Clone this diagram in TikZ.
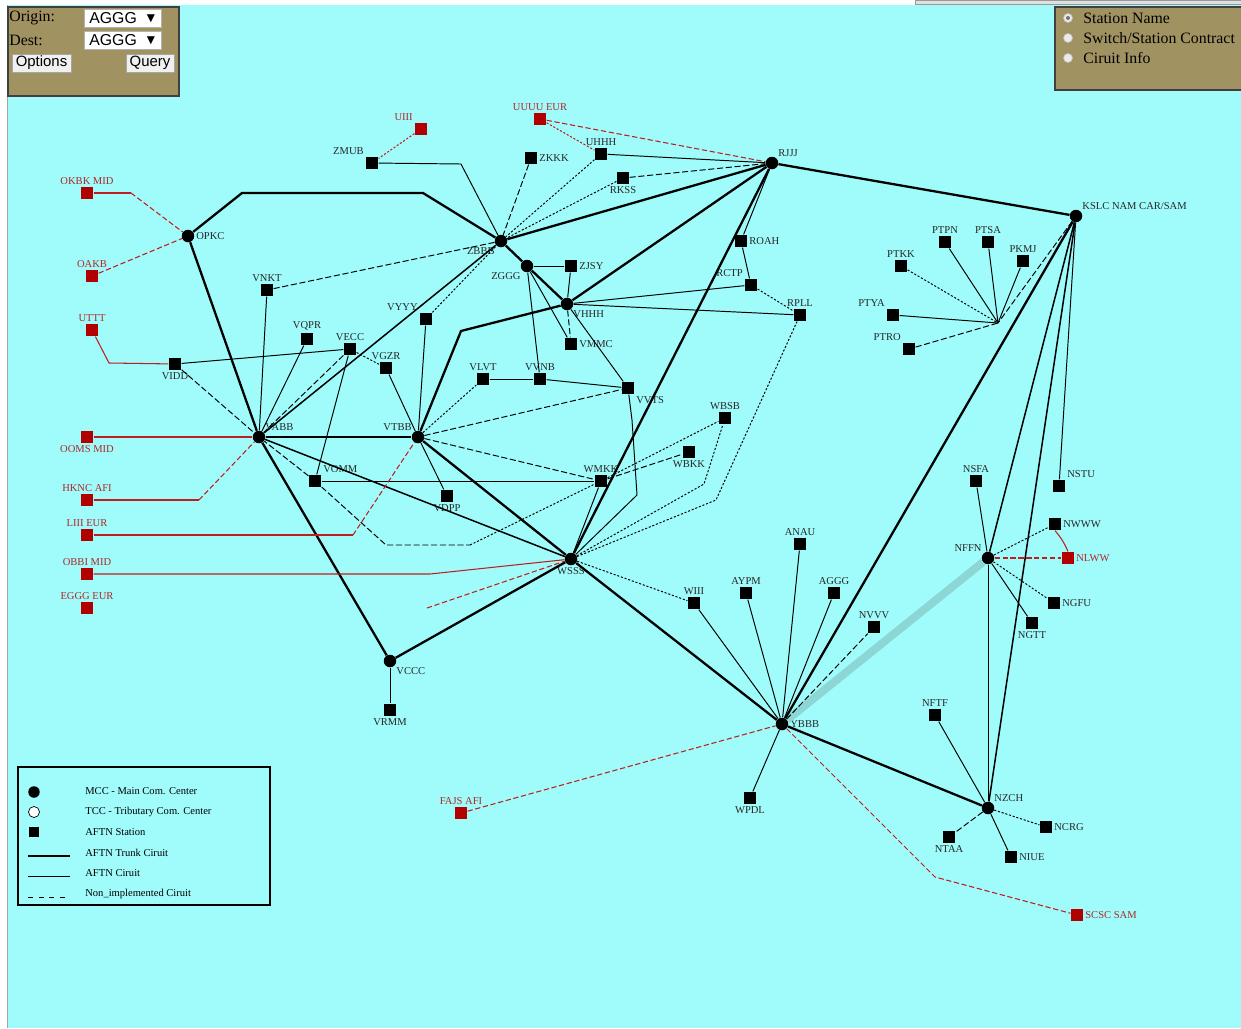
\documentclass[tikz,border=0pt]{standalone}
\usepackage{fontspec}
\setmainfont{Liberation Serif}
\newfontfamily\uisans{Liberation Sans}
\newfontfamily\symfnt{DejaVu Sans}
\usepackage{tikz}
\usetikzlibrary{positioning}

\definecolor{sea}{RGB}{160,251,251}
\definecolor{panelbg}{RGB}{161,146,98}
\definecolor{stnred}{RGB}{178,0,0}
\definecolor{lnred}{RGB}{190,30,30}
\definecolor{lblred}{RGB}{175,40,40}
\definecolor{pipeblue}{RGB}{140,214,214}

\begin{document}
\begin{tikzpicture}[x=0.02cm,y=-0.02cm,
  mcc/.style={circle,fill=black,inner sep=0pt,minimum size=0.25cm},
  stn/.style={rectangle,fill=black,inner sep=0pt,minimum size=0.25cm},
  extstn/.style={stn,fill=stnred},
  lbl/.style={font=\fontsize{6}{7}\selectfont,text=black!85,inner sep=0.8pt},
  extlbl/.style={lbl,text=lblred},
  trunk/.style={line width=1.3pt},
  midln/.style={line width=0.85pt},
  circ/.style={line width=0.55pt},
  nimp/.style={circ,dash pattern=on 3.5pt off 1.5pt},
  dotln/.style={circ,dash pattern=on 1.2pt off 1pt},
  extln/.style={line width=0.6pt,draw=lnred},
  extdash/.style={extln,dash pattern=on 3pt off 1.5pt},
  extdot/.style={extln,dash pattern=on 1.2pt off 1pt},
  pipe/.style={line width=4.5pt,draw=pipeblue},
  lgtxt/.style={font=\fontsize{6}{7}\selectfont,anchor=west,inner sep=0pt},
  uitxt/.style={font=\fontsize{9}{10}\selectfont,anchor=west,inner sep=0pt},
  selbox/.style={draw=black!30,fill=white,minimum width=1.54cm,minimum height=0.37cm,inner sep=0pt},
  btn/.style={draw=black!35,fill=black!6,font=\uisans\fontsize{8.5}{10}\selectfont,minimum height=0.36cm,inner sep=0pt},
  radio/.style={circle,draw=black!25,fill=black!8,minimum size=0.18cm,inner sep=0pt}
]
  \useasboundingbox (0,0) rectangle (1241,1028);
  \fill[white] (0,0) rectangle (1241,1028);
  \fill[sea] (8,5) rectangle (1241,1028);
  \draw[black!35] (7,5) -- (7,1028);
  \draw[black!40,fill=black!12] (915,0) rectangle (1241,4);

  % main com. centers
  \node[mcc,label={[lbl]right:OPKC}] (OPKC) at (188,236) {};
  \node[mcc,label={[lbl]below left:ZBBB}] (ZBBB) at (501,241) {};
  \node[mcc,label={[lbl]below left:ZGGG}] (ZGGG) at (527,266) {};
  \node[mcc,label={[lbl]below right:VHHH}] (VHHH) at (567,304) {};
  \node[mcc,label={[lbl]above right:RJJJ}] (RJJJ) at (772,163) {};
  \node[mcc,label={[lbl]above right:KSLC NAM CAR/SAM}] (KSLC) at (1076,216) {};
  \node[mcc,label={[lbl]above right:VABB}] (VABB) at (259,437) {};
  \node[mcc,label={[lbl]above left:VTBB}] (VTBB) at (418,437) {};
  \node[mcc,label={[lbl]below:WSSS}] (WSSS) at (571,559) {};
  \node[mcc,label={[lbl]below right:VCCC}] (VCCC) at (390,661) {};
  \node[mcc,label={[lbl]right:YBBB}] (YBBB) at (782,724) {};
  \node[mcc,label={[lbl]above left:NFFN}] (NFFN) at (988,558) {};
  \node[mcc,label={[lbl]above right:NZCH}] (NZCH) at (988,808) {};
  \coordinate (PThub) at (998,323);

  % stations
  \node[extstn,label={[extlbl]above left:UIII}] (UIII) at (421,129) {};
  \node[stn,label={[lbl]above left:ZMUB}] (ZMUB) at (372,163) {};
  \node[extstn,label={[extlbl]above:UUUU EUR}] (UUUU) at (540,119) {};
  \node[stn,label={[lbl]right:ZKKK}] (ZKKK) at (531,158) {};
  \node[stn,label={[lbl]above:UHHH}] (UHHH) at (601,154) {};
  \node[stn,label={[lbl]below:RKSS}] (RKSS) at (623,178) {};
  \node[extstn,label={[extlbl]above:OKBK MID}] (OKBK) at (87,193) {};
  \node[extstn,label={[extlbl]above:OAKB}] (OAKB) at (92,276) {};
  \node[extstn,label={[extlbl]above:UTTT}] (UTTT) at (92,330) {};
  \node[stn,label={[lbl]above:VNKT}] (VNKT) at (267,290) {};
  \node[stn,label={[lbl]above left:VYYY}] (VYYY) at (426,319) {};
  \node[stn,label={[lbl]above:VQPR}] (VQPR) at (307,339) {};
  \node[stn,label={[lbl]above:VECC}] (VECC) at (350,349) {};
  \node[stn,label={[lbl]below:VIDD}] (VIDD) at (175,364) {};
  \node[stn,label={[lbl]above:VGZR}] (VGZR) at (386,368) {};
  \node[stn,label={[lbl]right:ZJSY}] (ZJSY) at (571,266) {};
  \node[stn,label={[lbl]right:VMMC}] (VMMC) at (571,344) {};
  \node[stn,label={[lbl]right:ROAH}] (ROAH) at (741,241) {};
  \node[stn,label={[lbl]above left:RCTP}] (RCTP) at (751,285) {};
  \node[stn,label={[lbl]above:RPLL}] (RPLL) at (800,315) {};
  \node[stn,label={[lbl]above:VLVT}] (VLVT) at (483,379) {};
  \node[stn,label={[lbl]above:VVNB}] (VVNB) at (540,379) {};
  \node[stn,label={[lbl]below right:VVTS}] (VVTS) at (628,388) {};
  \node[stn,label={[lbl]above:WBSB}] (WBSB) at (725,418) {};
  \node[stn,label={[lbl]below:WBKK}] (WBKK) at (689,452) {};
  \node[stn,label={[lbl]above:WMKK}] (WMKK) at (601,481) {};
  \node[stn,label={[lbl]above right:VOMM}] (VOMM) at (315,481) {};
  \node[stn,label={[lbl]below:VDPP}] (VDPP) at (447,496) {};
  \node[extstn,label={[extlbl]below:OOMS MID}] (OOMS) at (87,437) {};
  \node[extstn,label={[extlbl]above:HKNC AFI}] (HKNC) at (87,500) {};
  \node[extstn,label={[extlbl]above:LIII EUR}] (LIII) at (87,535) {};
  \node[extstn,label={[extlbl]above:OBBI MID}] (OBBI) at (87,574) {};
  \node[extstn,label={[extlbl]above:EGGG EUR}] (EGGG) at (87,608) {};
  \node[stn,label={[lbl]below:VRMM}] (VRMM) at (390,710) {};
  \node[stn,label={[lbl]above:WIII}] (WIII) at (694,603) {};
  \node[stn,label={[lbl]above:AYPM}] (AYPM) at (746,593) {};
  \node[stn,label={[lbl]above:ANAU}] (ANAU) at (800,544) {};
  \node[stn,label={[lbl]above:AGGG}] (AGGG) at (834,593) {};
  \node[stn,label={[lbl]above:NVVV}] (NVVV) at (874,627) {};
  \node[extstn,label={[extlbl]above:FAJS AFI}] (FAJS) at (461,813) {};
  \node[stn,label={[lbl]below:WPDL}] (WPDL) at (750,798) {};
  \node[stn,label={[lbl]above:NFTF}] (NFTF) at (935,715) {};
  \node[stn,label={[lbl]below:NTAA}] (NTAA) at (949,837) {};
  \node[stn,label={[lbl]right:NIUE}] (NIUE) at (1011,857) {};
  \node[stn,label={[lbl]right:NCRG}] (NCRG) at (1046,827) {};
  \node[extstn,label={[extlbl]right:SCSC SAM}] (SCSC) at (1077,915) {};
  \node[stn,label={[lbl]above:NSFA}] (NSFA) at (976,481) {};
  \node[stn,label={[lbl]above right:NSTU}] (NSTU) at (1059,486) {};
  \node[stn,label={[lbl]right:NWWW}] (NWWW) at (1055,524) {};
  \node[extstn,label={[extlbl]right:NLWW}] (NLWW) at (1068,558) {};
  \node[stn,label={[lbl]right:NGFU}] (NGFU) at (1054,603) {};
  \node[stn,label={[lbl]below:NGTT}] (NGTT) at (1032,623) {};
  \node[stn,label={[lbl]above:PTPN}] (PTPN) at (945,242) {};
  \node[stn,label={[lbl]above:PTSA}] (PTSA) at (988,242) {};
  \node[stn,label={[lbl]above:PKMJ}] (PKMJ) at (1023,261) {};
  \node[stn,label={[lbl]above:PTKK}] (PTKK) at (901,266) {};
  \node[stn,label={[lbl]above left:PTYA}] (PTYA) at (893,315) {};
  \node[stn,label={[lbl]above left:PTRO}] (PTRO) at (909,349) {};

  % bends
  \coordinate (b1) at (242,193);
  \coordinate (b2) at (423,193);
  \coordinate (b3) at (461,164);
  \coordinate (b4) at (131,193);
  \coordinate (b5) at (109,363);
  \coordinate (b6) at (199,500);
  \coordinate (b7) at (353,535);
  \coordinate (b8) at (430,574);
  \coordinate (b9) at (427,608);
  \coordinate (b10) at (461,331);
  \coordinate (b11) at (386,545);
  \coordinate (b12) at (470,545);
  \coordinate (b13) at (637,495);
  \coordinate (b14) at (632,420);
  \coordinate (b15) at (704,484);
  \coordinate (b16) at (716,500);
  \coordinate (b17) at (935,877);

  % trunk circuits
  \draw[pipe] (YBBB) -- (NFFN);
  \draw[trunk] (OPKC) -- (b1) -- (b2) -- (ZBBB);
  \draw[trunk] (OPKC) -- (VABB);
  \draw[trunk] (ZBBB) -- (RJJJ);
  \draw[trunk] (RJJJ) -- (KSLC);
  \draw[trunk] (ZBBB) -- (ZGGG) -- (VHHH);
  \draw[trunk] (VHHH) -- (RJJJ);
  \draw[trunk] (VTBB) -- (b10) -- (VHHH);
  \draw[trunk] (VABB) -- (VTBB);
  \draw[trunk] (VTBB) -- (WSSS);
  \draw[trunk] (VABB) -- (VCCC);
  \draw[trunk] (VCCC) -- (WSSS);
  \draw[trunk] (WSSS) -- (RJJJ);
  \draw[trunk] (WSSS) -- (YBBB);
  \draw[trunk] (YBBB) -- (KSLC);
  \draw[trunk] (YBBB) -- (NZCH);
  \draw[midln] (VABB) -- (ZBBB);
  \draw[midln] (VABB) -- (WSSS);
  \draw[midln] (NFFN) -- (KSLC);
  \draw[midln] (NZCH) -- (KSLC);

  % circuits
  \draw[circ] (ZMUB) -- (b3) -- (ZBBB);
  \draw[nimp] (ZKKK) -- (ZBBB);
  \draw[dotln] (UHHH) -- (ZBBB);
  \draw[dotln] (RKSS) -- (ZBBB);
  \draw[circ] (UHHH) -- (RJJJ);
  \draw[nimp] (RKSS) -- (RJJJ);
  \draw[circ] (ZJSY) -- (ZGGG);
  \draw[circ] (ZJSY) -- (VHHH);
  \draw[circ] (ZGGG) -- (VMMC);
  \draw[circ] (ZGGG) -- (VVNB);
  \draw[nimp] (VHHH) -- (VMMC);
  \draw[circ] (VHHH) -- (VVTS);
  \draw[circ] (VHHH) -- (RCTP);
  \draw[circ] (VHHH) -- (RPLL);
  \draw[circ] (RJJJ) -- (ROAH);
  \draw[circ] (ROAH) -- (RCTP);
  \draw[dotln] (RCTP) -- (RPLL);
  \draw[dotln] (VYYY) -- (ZBBB);
  \draw[nimp] (VNKT) -- (ZBBB);
  \draw[circ] (VNKT) -- (VABB);
  \draw[circ] (VQPR) -- (VABB);
  \draw[nimp] (VECC) -- (VABB);
  \draw[circ] (VECC) -- (VOMM);
  \draw[dotln] (VECC) -- (VGZR);
  \draw[circ] (VIDD) -- (VECC);
  \draw[nimp] (VIDD) -- (VABB);
  \draw[nimp] (VOMM) -- (VABB);
  \draw[circ] (VOMM) -- (WMKK);
  \draw[nimp] (VOMM) -- (b11) -- (b12);
  \draw[dotln] (b12) -- (WMKK);
  \draw[circ] (VTBB) -- (VYYY);
  \draw[circ] (VTBB) -- (VGZR);
  \draw[circ] (VTBB) -- (VDPP);
  \draw[dotln] (VTBB) -- (VLVT);
  \draw[nimp] (VTBB) -- (VVTS);
  \draw[nimp] (VTBB) -- (WMKK);
  \draw[circ] (VLVT) -- (VVNB);
  \draw[circ] (VVNB) -- (VVTS);
  \draw[circ] (WSSS) -- (b13) -- (b14) -- (VVTS);
  \draw[dotln] (WSSS) -- (b15) -- (WBSB);
  \draw[dotln] (WSSS) -- (b16) -- (RPLL);
  \draw[circ] (WSSS) -- (WMKK);
  \draw[nimp] (WMKK) -- (WBKK);
  \draw[dotln] (WMKK) -- (WBSB);
  \draw[dotln] (WSSS) -- (WIII);
  \draw[circ] (VCCC) -- (VRMM);
  \draw[circ] (YBBB) -- (WIII);
  \draw[circ] (YBBB) -- (AYPM);
  \draw[circ] (YBBB) -- (ANAU);
  \draw[circ] (YBBB) -- (AGGG);
  \draw[nimp] (YBBB) -- (NVVV);
  \draw[circ] (YBBB) -- (WPDL);
  \draw[circ] (NFFN) -- (NSFA);
  \draw[dotln] (NFFN) -- (NWWW);
  \draw[dotln] (NFFN) -- (NGFU);
  \draw[circ] (NFFN) -- (NGTT);
  \draw[circ] (NFFN) -- (NZCH);
  \draw[circ] (NSTU) -- (KSLC);
  \draw[circ] (NZCH) -- (NFTF);
  \draw[nimp] (NZCH) -- (NTAA);
  \draw[circ] (NZCH) -- (NIUE);
  \draw[dotln] (NZCH) -- (NCRG);
  \draw[dotln] (PTKK) -- (PThub);
  \draw[circ] (PTPN) -- (PThub);
  \draw[circ] (PTSA) -- (PThub);
  \draw[circ] (PKMJ) -- (PThub);
  \draw[circ] (PTYA) -- (PThub);
  \draw[nimp] (PTRO) -- (PThub);
  \draw[nimp] (KSLC) -- (PThub);

  % links to other regions
  \draw[extdot] (UIII) -- (ZMUB);
  \draw[extdot] (UUUU) -- (UHHH);
  \draw[extdash] (UUUU) -- (RJJJ);
  \draw[extln] (OKBK) -- (b4);
  \draw[extdash] (b4) -- (OPKC);
  \draw[extdash] (OAKB) -- (OPKC);
  \draw[extln] (UTTT) -- (b5) -- (VIDD);
  \draw[extln] (OOMS) -- (VABB);
  \draw[extln] (HKNC) -- (b6);
  \draw[extdash] (b6) -- (VABB);
  \draw[extln] (LIII) -- (b7);
  \draw[extdash] (b7) -- (VTBB);
  \draw[extln] (OBBI) -- (b8) -- (WSSS);
  \draw[extdash] (b9) -- (WSSS);
  \draw[extdash] (FAJS) -- (YBBB);
  \draw[extdash] (YBBB) -- (b17) -- (SCSC);
  \draw[extdash] (NFFN) -- (NLWW);
  \draw[extln] (NWWW.south) to[bend left=8] (NLWW.north);

  % legend
  \draw[line width=0.8pt] (18,767) rectangle (270,905);
  \node[mcc,minimum size=0.23cm] (lgmcc) at (34,792) {};
  \node[circle,draw,fill=white,inner sep=0pt,minimum size=0.22cm] (lgtcc) at (34,812) {};
  \node[stn,minimum size=0.21cm] (lgstn) at (34,832) {};
  \draw[trunk] (28,856) -- (70,856);
  \draw[circ] (28,876) -- (70,876);
  \draw[circ,dash pattern=on 3pt off 3pt] (28,897) -- (70,897);
  \node[lgtxt] (lg1) at (85,791) {MCC - Main Com. Center};
  \node[lgtxt] (lg2) at (85,812) {TCC - Tributary Com. Center};
  \node[lgtxt] (lg3) at (85,832) {AFTN Station};
  \node[lgtxt] (lg4) at (85,853) {AFTN Trunk Ciruit};
  \node[lgtxt] (lg5) at (85,873) {AFTN Ciruit};
  \node[lgtxt] (lg6) at (85,894) {Non\_implemented Ciruit};

  % query panel
  \draw[fill=panelbg,draw=black!75,line width=0.8pt] (8,7) rectangle (179,96);
  \node[uitxt] (orig) at (9,18) {Origin:};
  \node[uitxt] (dest) at (9,40) {Dest:};
  \node[selbox] (osel) at (122.5,18.5) {};
  \node[selbox] (dsel) at (122.5,40.5) {};
  \node[anchor=west,inner sep=0pt,font=\uisans\fontsize{9}{10}\selectfont] (oval) at (89,18.5) {AGGG};
  \node[anchor=west,inner sep=0pt,font=\uisans\fontsize{9}{10}\selectfont] (dval) at (89,40.5) {AGGG};
  \node[inner sep=0pt,font=\symfnt\fontsize{6}{7}\selectfont] (oarr) at (151,18.5) {▼};
  \node[inner sep=0pt,font=\symfnt\fontsize{6}{7}\selectfont] (darr) at (151,40.5) {▼};
  \node[btn,minimum width=1.18cm] (optbtn) at (41.5,63) {Options};
  \node[btn,minimum width=0.96cm] (qrybtn) at (150,63) {Query};

  % display panel
  \draw[fill=panelbg,draw=black!75,line width=0.8pt] (1055,7) rectangle (1250,90);
  \node[radio,path picture={\fill[black!55] (path picture bounding box.center) circle (0.04cm);}] (rsel) at (1068,18) {};
  \node[radio] (rsw) at (1068,38) {};
  \node[radio] (rci) at (1068,58) {};
  \node[uitxt] (tsel) at (1083,18) {Station Name};
  \node[uitxt] (tsw) at (1083,38) {Switch/Station Contract};
  \node[uitxt] (tci) at (1083,58) {Ciruit Info};
\end{tikzpicture}
\end{document}
